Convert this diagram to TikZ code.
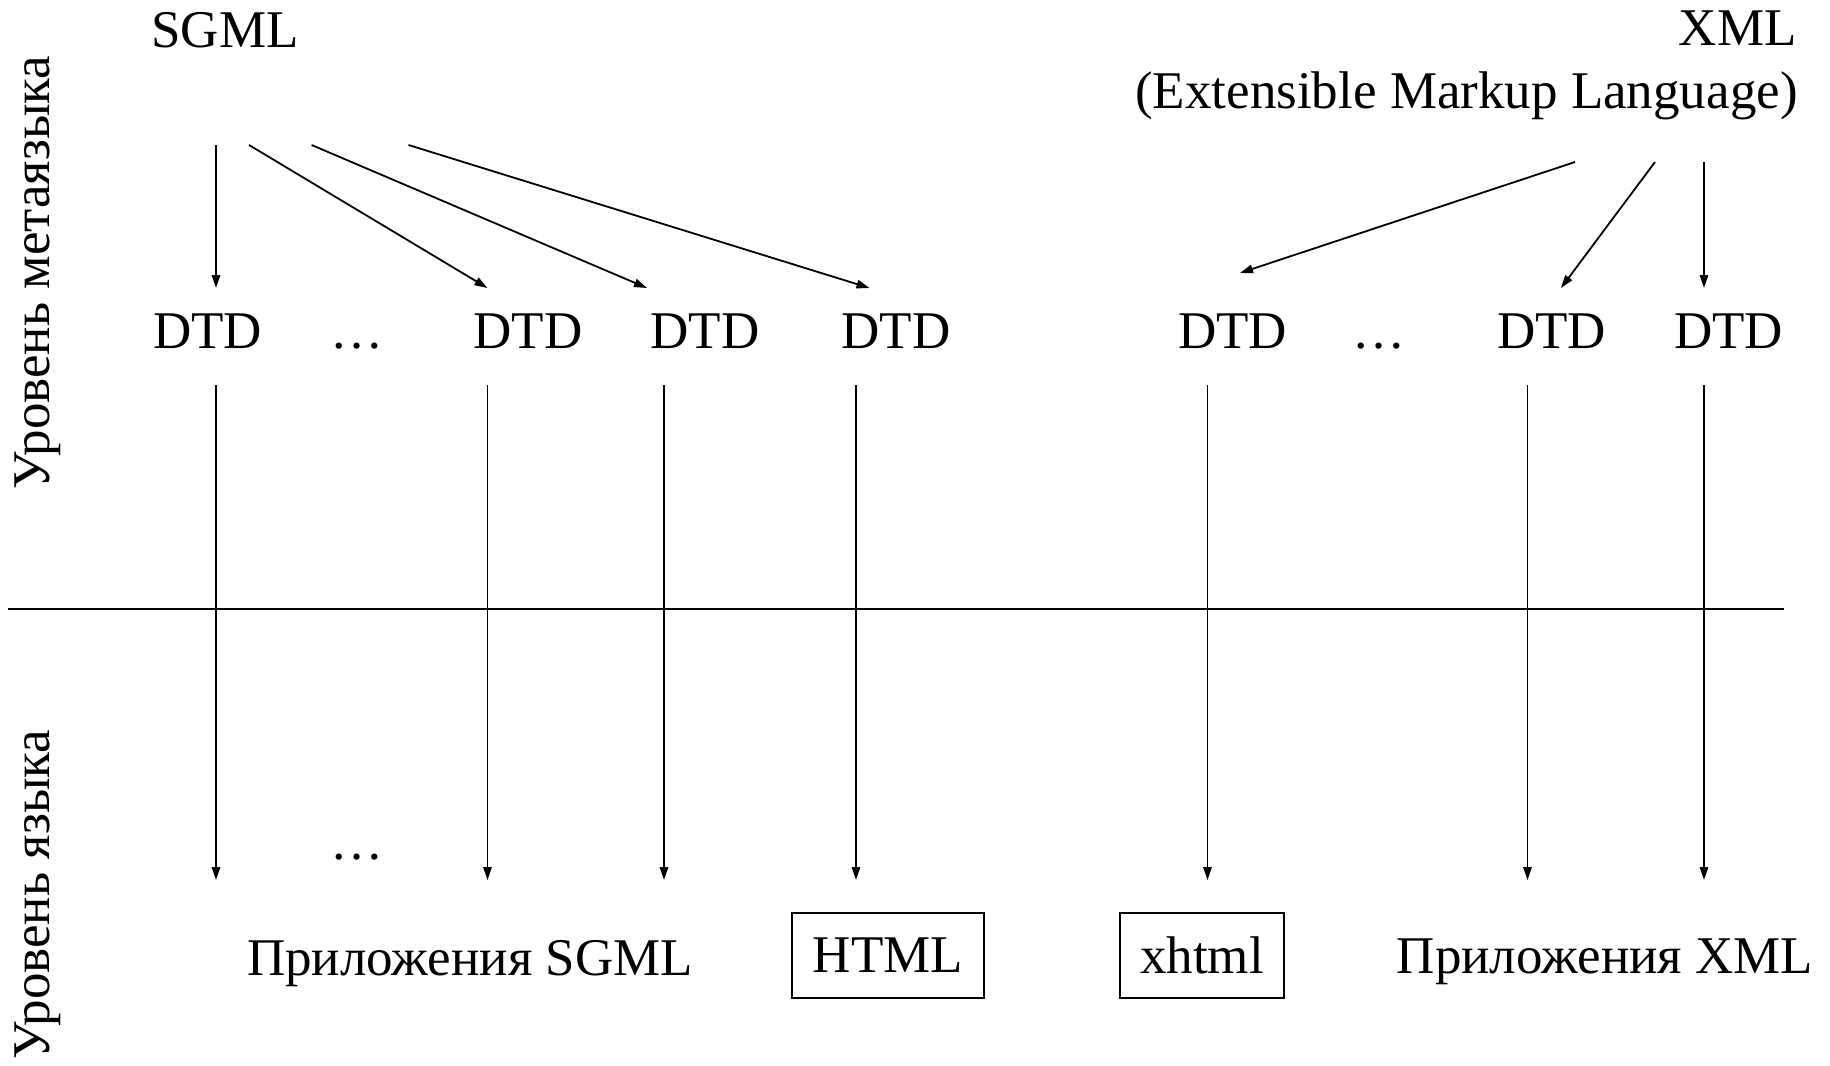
\documentclass[tikz,border=0pt]{standalone}
\usepackage{fontspec}
\setmainfont{Liberation Serif}
\usetikzlibrary{arrows.meta}
\begin{document}
\begin{tikzpicture}[x=0.5pt,y=-0.5pt,
  lbl/.style={inner sep=0pt,anchor=base,font=\fontsize{26.5}{30}\selectfont},
  framed/.style={draw,line width=1pt,minimum width=96pt,minimum height=42.5pt,inner sep=0pt,font=\fontsize{26.5}{30}\selectfont},
  arr/.style={line width=0.9pt,-{Triangle[length=6.5pt,width=4.2pt]}},
  divider/.style={line width=1.3pt}]
\useasboundingbox (0,0) rectangle (1830,1065);

% top languages
\node[lbl] (sgml) at (225,48) {SGML};
\node[lbl,anchor=base east] (xml) at (1797,46) {XML};
\node[lbl,anchor=base east] (xmlfull) at (1798,109) {(Extensible Markup Language)};

% DTD row
\node[lbl] (d1) at (207.5,348) {DTD};
\node[lbl] (e1) at (357,348) {…};
\node[lbl] (d2) at (528,348) {DTD};
\node[lbl] (d3) at (705,348) {DTD};
\node[lbl] (d4) at (896,348) {DTD};
\node[lbl] (d5) at (1232.5,348) {DTD};
\node[lbl] (e2) at (1379,348) {…};
\node[lbl] (d6) at (1551.5,348) {DTD};
\node[lbl] (d7) at (1728.5,348) {DTD};

% applications
\node[lbl] (e3) at (357,859) {…};
\node[lbl] (appsgml) at (470,975) {Приложения SGML};
\node[framed] (html) at (888,955.5) {HTML};
\node[framed,minimum width=82pt] (xhtml) at (1202,955.5) {xhtml};
\node[lbl] (appxml) at (1605,973) {Приложения XML};

% level labels
\node[lbl,rotate=90] (meta) at (49.5,272.5) {Уровень метаязыка};
\node[lbl,rotate=90] (lang) at (49.5,894.5) {Уровень языка};

% arrow end points
\coordinate (s1) at (216,145);   \coordinate (t1) at (216,288);
\coordinate (s2) at (249,145);   \coordinate (t2) at (487.5,288);
\coordinate (s3) at (311.6,145); \coordinate (t3) at (647,288);
\coordinate (s4) at (408.5,145); \coordinate (t4) at (869.5,288);
\coordinate (x1) at (1575,162);  \coordinate (u1) at (1240,273);
\coordinate (x2) at (1655,162);  \coordinate (u2) at (1561,288);
\coordinate (x3) at (1704,162);  \coordinate (u3) at (1704,288);

\foreach \n/\x in {1/216,2/487.5,3/664,4/856,5/1207.5,6/1527.5,7/1704}{
  \coordinate (p\n) at (\x,385);
  \coordinate (q\n) at (\x,880);
}
\coordinate (hl) at (7.7,609);
\coordinate (hr) at (1783.5,609);

% metalanguage to DTD
\foreach \i in {1,2,3,4} \draw[arr] (s\i) -- (t\i);
\foreach \i in {1,2,3} \draw[arr] (x\i) -- (u\i);

% level divider
\draw[divider] (hl) -- (hr);

% DTD to languages
\foreach \i in {1,...,7} \draw[arr] (p\i) -- (q\i);
\end{tikzpicture}
\end{document}
